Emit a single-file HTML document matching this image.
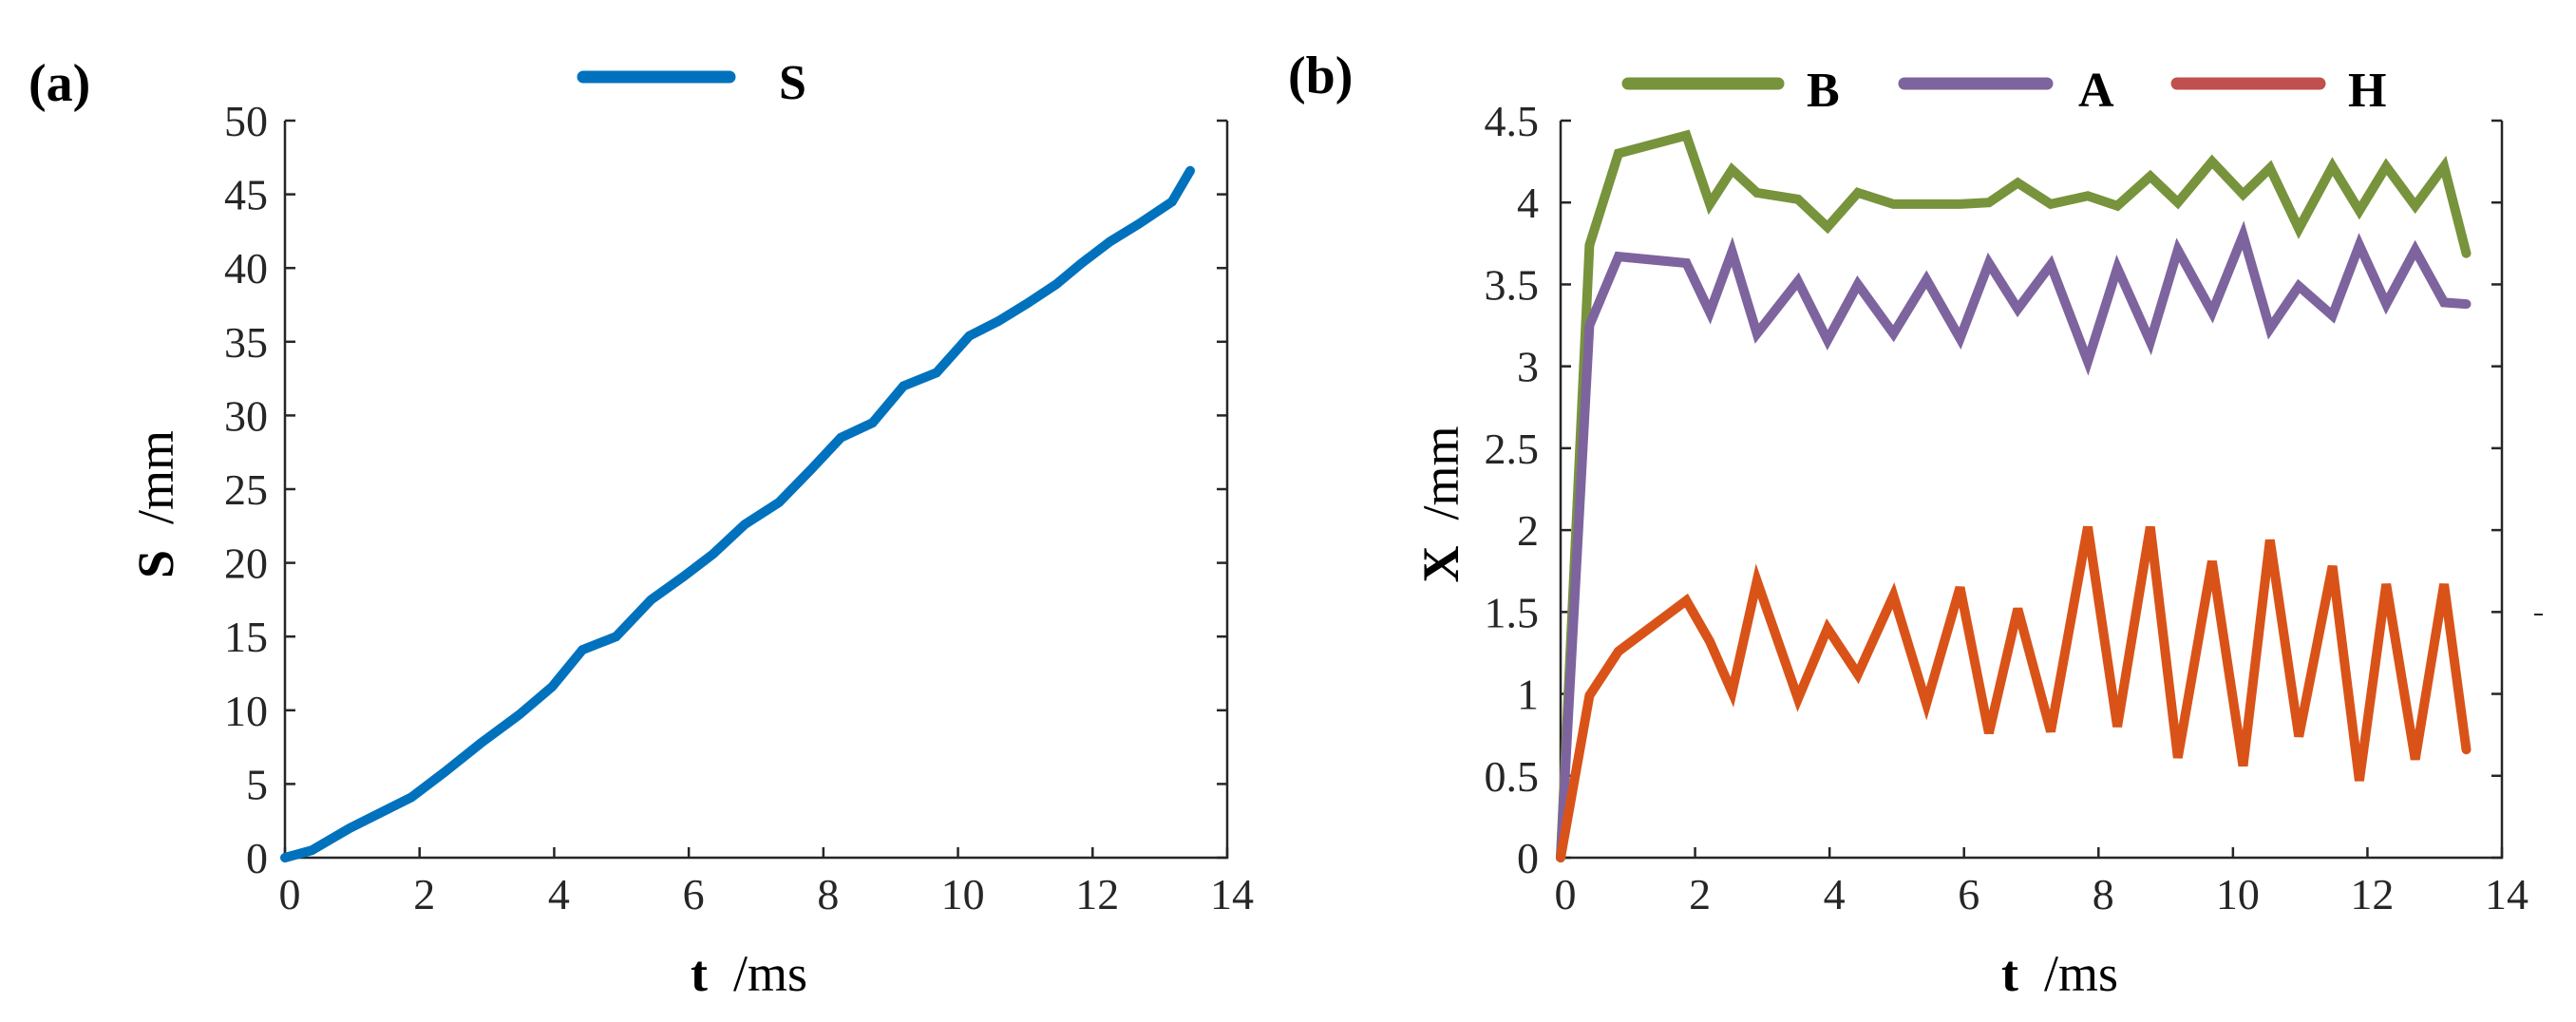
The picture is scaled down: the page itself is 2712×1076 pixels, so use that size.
<!DOCTYPE html>
<html><head><meta charset="utf-8"><style>
html,body{margin:0;padding:0;background:#fff;}
svg{display:block;font-family:"Liberation Serif",serif;}
</style></head><body>
<svg id="chart" width="2712" height="1076" viewBox="0 0 2712 1076" xmlns="http://www.w3.org/2000/svg">
<g id="pa"></g>
<g id="pb"></g>
</svg>
<script>
// Panel (a) data
const tA = [0,0.4,0.96,1.88,2.37,2.92,3.48,3.97,4.42,4.92,5.44,5.93,6.36,6.83,7.34,7.83,8.26,8.73,9.19,9.68,10.17,10.6,11.03,11.46,11.83,12.26,12.69,13.18,13.45];
const sVals = [0,0.5,2.0,4.1,5.8,7.8,9.7,11.6,14.1,15.0,17.5,19.1,20.6,22.6,24.1,26.4,28.5,29.5,32.0,32.9,35.4,36.4,37.6,38.9,40.3,41.8,43.0,44.5,46.6];
const xTicks = [0,2,4,6,8,10,12,14];
const yTicksA = [0,5,10,15,20,25,30,35,40,45,50];
// Panel (b) data
const tB = [0,0.43,0.86,1.87,2.22,2.55,2.92,3.53,3.97,4.42,4.95,5.44,5.94,6.37,6.8,7.29,7.84,8.28,8.77,9.18,9.69,10.15,10.55,10.98,11.48,11.88,12.28,12.71,13.14,13.47];
const bVals = [0,3.74,4.30,4.41,3.99,4.2,4.06,4.02,3.85,4.06,3.99,3.99,3.99,4.0,4.12,3.99,4.04,3.98,4.16,4.0,4.25,4.05,4.21,3.84,4.22,3.95,4.22,3.98,4.22,3.69];
const aVals = [0,3.25,3.67,3.63,3.33,3.7,3.2,3.52,3.16,3.5,3.2,3.53,3.17,3.63,3.35,3.62,3.03,3.6,3.15,3.71,3.33,3.8,3.23,3.49,3.31,3.74,3.38,3.71,3.39,3.38];
const hVals = [0,0.99,1.26,1.57,1.32,1.01,1.69,0.97,1.4,1.12,1.6,0.94,1.65,0.76,1.52,0.77,2.02,0.8,2.02,0.61,1.81,0.56,1.94,0.74,1.78,0.47,1.67,0.6,1.67,0.66];
const yTicksB = [0,0.5,1,1.5,2,2.5,3,3.5,4,4.5];

const NS="http://www.w3.org/2000/svg";
function mk(tag,attrs,parent){const e=document.createElementNS(NS,tag);for(const k in attrs)e.setAttribute(k,attrs[k]);parent.appendChild(e);return e;}
const AX="#262626";

function panel(g,cfg){
  const {x0,x1,y0,y1,xmax,ymax}=cfg;
  const sx=v=>x0+(x1-x0)*v/xmax, sy=v=>y0-(y0-y1)*v/ymax;
  // axes
  const ax=mk('path',{d:`M${x0},${y1}V${y0}H${x1}V${y1}`,fill:'none',stroke:AX,'stroke-width':2.5},g);
  
  
  xTicks.forEach(v=>{
    const t=mk('line',{x1:sx(v),x2:sx(v),y1:y0,y2:y0-11,stroke:AX,'stroke-width':2.5},g);
    
    
    const l=mk('text',{x:sx(v)+5,y:957,'text-anchor':'middle','font-size':46,fill:AX},g);
    
    
    l.textContent=v;
  });
  cfg.yTicks.forEach(v=>{
    const t=mk('line',{x1:x0,x2:x0+11,y1:sy(v),y2:sy(v),stroke:AX,'stroke-width':2.5},g);
    
    
    const t2=mk('line',{x1:x1,x2:x1-11,y1:sy(v),y2:sy(v),stroke:AX,'stroke-width':2.5},g);
    
    
    const l=mk('text',{x:cfg.ylabX,y:sy(v)+16,'text-anchor':'end','font-size':46,fill:AX},g);
    
    
    l.textContent=v;
  });
  cfg.series.forEach(s=>{
    const d=s.x.map((v,i)=>(i?'L':'M')+sx(v).toFixed(1)+','+sy(s.y[i]).toFixed(1)).join('');
    const p=mk('path',{d:d,fill:'none',stroke:s.color,'stroke-width':10,'stroke-linejoin':'miter','stroke-linecap':'round'},g);
    
    
  });
}
const ga=document.getElementById('pa'), gb=document.getElementById('pb');
panel(ga,{x0:300,x1:1292,y0:903,y1:127,xmax:14,ymax:50,yTicks:yTicksA,ylabX:282,
  series:[{name:'series-s',x:tA,y:sVals,color:'#0072BD'}]});
panel(gb,{x0:1643,x1:2634,y0:903,y1:127,xmax:14,ymax:4.5,yTicks:yTicksB,ylabX:1620,
  series:[{name:'series-b',x:tB,y:bVals,color:'#77933C'},{name:'series-a',x:tB,y:aVals,color:'#7E649E'},{name:'series-h',x:tB,y:hVals,color:'#D95319'}]});
</script>
<svg style="position:absolute;left:0;top:0" width="2712" height="1076" viewBox="0 0 2712 1076" xmlns="http://www.w3.org/2000/svg" font-family="Liberation Serif, serif">
  <text x="30" y="106" font-size="56" font-weight="bold">(a)</text>
  <text x="1356" y="98" font-size="56" font-weight="bold">(b)</text>
  <g>
    <line x1="614" y1="81" x2="768" y2="81" stroke="#0072BD" stroke-width="13" stroke-linecap="round"/>
    <text x="820" y="104" font-size="52" font-weight="bold">S</text>
  </g>
  <g>
    <line x1="1714" y1="88" x2="1872" y2="88" stroke="#77933C" stroke-width="13" stroke-linecap="round"/>
    <text x="1902" y="112" font-size="52" font-weight="bold">B</text>
    <line x1="2005" y1="88" x2="2155" y2="88" stroke="#7E649E" stroke-width="13" stroke-linecap="round"/>
    <text x="2188" y="112" font-size="52" font-weight="bold">A</text>
    <line x1="2292" y1="88" x2="2442" y2="88" stroke="#C0504D" stroke-width="13" stroke-linecap="round"/>
    <text x="2472" y="112" font-size="52" font-weight="bold">H</text>
  </g>
  <text x="727" y="1043" font-size="54" fill="#000" xml:space="preserve"><tspan font-weight="bold">t</tspan>  /ms</text>
  <text x="2107" y="1043" font-size="54" fill="#000" xml:space="preserve"><tspan font-weight="bold">t</tspan>  /ms</text>
  <text transform="translate(182,531) rotate(-90)" text-anchor="middle" font-size="54" xml:space="preserve"><tspan font-weight="bold">S</tspan>  /mm</text>
  <text transform="translate(1535,531) rotate(-90)" text-anchor="middle" font-size="54" xml:space="preserve"><tspan font-weight="bold">X</tspan>  /mm</text>
  <line x1="2668" y1="647" x2="2677" y2="647" stroke="#262626" stroke-width="2"/>
</svg>
</body></html>
